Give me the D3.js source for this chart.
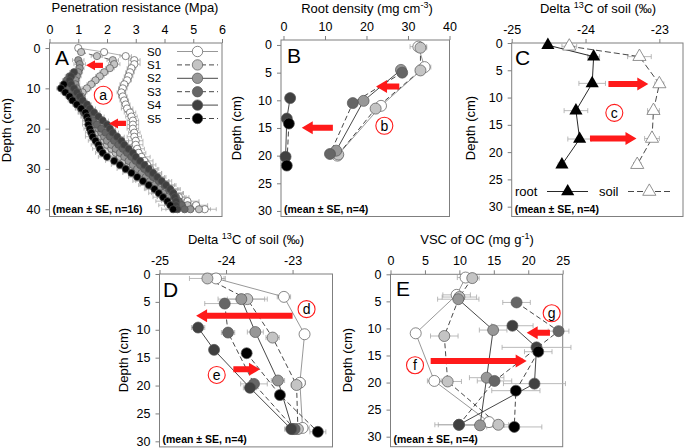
<!DOCTYPE html>
<html><head><meta charset="utf-8">
<script src="https://cdn.jsdelivr.net/npm/d3@7"></script>
<style>body{margin:0;background:#fff} text{font-family:Arial,"Liberation Sans",sans-serif}</style>
</head><body><svg id="c" width="685" height="448"></svg>
<script>
// ---------------- DATA ----------------
const seriesNames = ["S0","S1","S2","S3","S4","S5"];
// Panel A: penetration resistance (MPa) by depth (cm), index = depth
const depthA = [0,1,2,3,4,5,6,7,8,9,10,11,12,13,14,15,16,17,18,19,20,21,22,23,24,25,26,27,28,29,30,31,32,33,34,35,36,37,38,39,40];
const penS0 = [1.0,1.9,2.65,2.95,2.95,2.85,2.8,2.75,2.7,2.6,2.55,2.5,2.55,2.6,2.65,2.7,2.8,2.85,2.9,2.9,2.9,2.95,2.95,3.0,3.0,3.05,3.1,3.2,3.3,3.4,3.5,3.6,3.7,3.8,3.9,4.1,4.3,4.5,4.8,5.1,5.4];
const penS1 = [null,1.1,1.65,2.2,2.25,2.1,1.9,1.75,1.6,1.45,1.3,1.15,1.1,1.05,1.1,1.15,1.2,1.3,1.4,1.5,1.6,1.7,1.8,1.9,2.0,2.15,2.3,2.45,2.6,2.75,2.9,3.05,3.2,3.35,3.5,3.7,3.9,4.1,4.4,4.8,5.2];
const penS2 = [null,null,null,1.0,1.05,1.05,1.0,0.95,0.9,0.9,0.95,1.0,1.05,1.1,1.15,1.2,1.3,1.4,1.5,1.6,1.7,1.8,1.9,2.0,2.15,2.3,2.45,2.6,2.75,2.9,3.05,3.2,3.35,3.5,3.65,3.8,3.95,4.1,4.3,4.6,4.9];
const penS3 = [null,null,null,null,null,null,null,0.7,0.6,0.55,0.6,0.7,0.8,0.9,1.0,1.1,1.2,1.35,1.5,1.65,1.8,1.95,2.1,2.25,2.4,2.55,2.7,2.85,3.0,3.15,3.3,3.45,3.6,3.8,4.0,4.15,4.3,4.4,4.5,4.6,4.7];
const penS4 = [null,null,null,null,null,null,0.85,0.75,0.7,0.75,0.85,0.95,1.05,1.15,1.3,1.4,1.55,1.7,1.85,2.0,2.1,2.2,2.35,2.5,2.6,2.75,2.9,3.0,3.15,3.3,3.45,3.6,3.75,3.9,4.05,4.2,4.3,4.35,4.4,4.4,4.45];
const penS5 = [null,null,null,null,null,null,null,null,null,0.5,0.4,0.55,0.7,0.8,0.95,1.1,1.25,1.3,1.35,1.35,1.4,1.45,1.5,1.6,1.7,1.75,1.85,2.0,2.25,2.45,2.65,2.85,3.05,3.25,3.45,3.65,3.8,3.95,4.1,4.2,4.3];
const penSE = [0.05,0.1,0.2,0.2,0.2,0.15,0.15,0.15,0.15,0.15,0.15,0.15,0.15,0.15,0.15,0.2,0.2,0.2,0.2,0.2,0.2,0.2,0.25,0.25,0.25,0.25,0.25,0.3,0.3,0.3,0.3,0.3,0.3,0.35,0.35,0.35,0.35,0.35,0.4,0.4,0.4];

// Panel B: root density (mg cm-3): [depth, value, SE]
const rootS0 = [[0.3,32.5,2.0],[4.0,34.0,1.5],[11.0,23.5,1.0],[20.0,13.0,0.8]];
const rootS1 = [[0.5,33.0,1.5],[4.6,33.0,1.2],[11.5,22.2,1.0],[19.8,13.2,0.8]];
const rootS2 = [[4.5,28.3,1.0],[10.1,19.3,1.0],[19.1,12.7,0.8]];
const rootS3 = [[5.0,28.6,0.8],[10.5,16.7,0.8],[19.7,11.2,0.6]];
const rootS4 = [[9.6,1.6,0.3],[13.3,0.8,0.3],[20.2,0.5,0.2]];
const rootS5 = [[14.2,1.3,0.3],[21.8,0.8,0.2]];

// Panel C: delta 13C of root and soil: [depth, value, SE]
const d13Root = [[0.4,-24.51,0.05],[2.5,-23.89,0.08],[7.4,-23.91,0.18],[12.4,-24.13,0.16],[17.6,-24.08,0.16],[22.3,-24.32,0.05]];
const d13Soil = [[0.6,-24.22,0.1],[2.5,-23.27,0.16],[7.5,-23.0,0.06],[12.4,-23.08,0.08],[17.5,-23.1,0.1],[22.3,-23.3,0.05]];

// Panel D: delta 13C of soil per treatment: [depth, value, SE]
const dS0 = [[0.8,-24.15,0.12],[4.1,-23.13,0.1],[10.8,-22.82,0.05],[19.5,-22.89,0.08],[27.6,-22.85,0.1]];
const dS1 = [[0.8,-24.28,0.27],[4.5,-23.68,0.3],[11.4,-23.3,0.1],[19.9,-22.94,0.08],[27.8,-22.92,0.1]];
const dS2 = [[4.5,-23.77,0.35],[10.4,-23.56,0.12],[19.1,-23.22,0.1],[27.8,-23.0,0.1]];
const dS3 = [[5.3,-24.02,0.3],[10.5,-23.97,0.1],[19.7,-23.58,0.2],[27.8,-22.97,0.1]];
const dS4 = [[9.6,-24.42,0.1],[13.6,-24.18,0.05],[20.4,-23.64,0.1],[27.8,-23.02,0.1]];
const dS5 = [[14.2,-23.69,0.05],[21.7,-23.19,0.05],[28.3,-22.62,0.12]];

// Panel E: VSC of OC (mg g-1): [depth, value, SE]
const eS0 = [[0.6,10.9,1.2],[3.8,9.6,2.0],[10.9,3.66,0.5],[19.7,6.36,1.0],[27.3,14.3,1.5]];
const eS1 = [[0.7,11.87,1.0],[4.2,10.0,2.5],[11.4,7.81,2.0],[19.8,8.3,2.0],[27.8,15.65,1.5]];
const eS2 = [[4.6,9.84,3.0],[10.3,14.9,2.0],[19.1,13.96,2.5],[27.9,13.0,3.5]];
const eS3 = [[5.2,18.3,2.0],[10.5,24.4,1.5],[19.7,15.1,2.5],[27.8,9.94,3.5]];
const eS4 = [[9.5,17.7,3.0],[13.5,21.2,5.0],[20.2,20.9,4.5],[27.8,9.94,3.0]];
const eS5 = [[14.3,21.45,2.0],[21.5,18.2,3.5],[28.2,17.97,4.0]];

// Annotations (data coords): [depth, fromValue, toValue]
const arrowsA = [[4.3,1.86,1.27],[18.7,2.66,2.07]];
const arrowsB = [[7.5,27.9,22.3],[14.95,11.9,4.4]];
const arrowsC = [[7.5,-23.69,-23.15],[17.5,-23.94,-23.31]];
const arrowsD = [[7.5,-23.0,-24.45],[17.1,-23.89,-23.49]];
const arrowsE = [[10.8,23.15,19.77],[16.0,5.83,19.77]];
// circle labels: [label, value, depth]
const labelsA = [["a",1.87,11.7]];
const labelsB = [["b",24.3,14.6]];
const labelsC = [["c",-23.61,12.8]];
const labelsD = [["d",-22.79,6.3],["e",-24.14,18.1]];
const labelsE = [["g",23.4,7.2],["f",3.56,16.8]];

// ---------------- STYLE ----------------
const fills = ["#ffffff","#c4c4c4","#979797","#666666","#404040","#000000"];
const dashes = [null,"5,3",null,"5,3",null,"5,3"];
const lineCols = ["#8c8c8c","#333","#333","#333","#333","#333"];
const axisCol = "#7f7f7f", errCol = "#a8a8a8", red = "#ff1a1a";

const svg = d3.select("#c");

function makePanel(p){
  const g = svg.append("g");
  const x = d3.scaleLinear().domain(p.xd).range(p.xr);
  const y = d3.scaleLinear().domain(p.yd).range(p.yr);
  g.append("rect").attr("x",p.xr[0]).attr("y",p.yr[0])
    .attr("width",p.xr[1]-p.xr[0]).attr("height",p.yr[1]-p.yr[0])
    .attr("fill","none").attr("stroke",axisCol).attr("stroke-width",1);
  const xa = g.append("g").attr("transform",`translate(0,${p.yr[0]})`)
    .call(d3.axisTop(x).tickValues(p.xt).tickSize(4).tickPadding(5).tickFormat(d=>String(d)));
  const ya = g.append("g").attr("transform",`translate(${p.xr[0]},0)`)
    .call(d3.axisLeft(y).tickValues(p.yt).tickSize(4).tickPadding(5).tickFormat(d=>String(d)));
  [xa,ya].forEach(a=>{
    a.select(".domain").remove();
    a.selectAll("line").attr("stroke",axisCol);
    a.selectAll("text").attr("font-size","12.5px").attr("fill","#000").attr("font-family","Arial, 'Liberation Sans', sans-serif");
  });
  const t = g.append("text").attr("x",p.tx).attr("y",p.ty).attr("text-anchor","middle").attr("font-size","13px");
  p.title.forEach(s=>{
    if (s.sup) t.append("tspan").attr("dy",-5).attr("font-size","9px").text(s.sup);
    else t.append("tspan").attr("dy", s.after ? 5 : 0).text(s.t);
  });
  g.append("text").attr("transform",`translate(${p.lx},${p.ly}) rotate(-90)`)
    .attr("text-anchor","middle").attr("font-size","13px").text("Depth (cm)");
  g.append("text").attr("x",p.letter[1]).attr("y",p.letter[2]).attr("font-size","21px").text(p.letter[0]);
  g.append("text").attr("x",p.xr[0]+3).attr("y",p.yr[1]-3.5).attr("font-size","10.5px").attr("font-weight","bold").text(p.note);
  return {g,x,y};
}

function errBars(g,x,y,pts,cap){
  pts.forEach(([d,v,se])=>{
    if (v==null || !se) return;
    const yy=y(d), x1=x(v-se), x2=x(v+se);
    g.append("line").attr("x1",x1).attr("x2",x2).attr("y1",yy).attr("y2",yy).attr("stroke",errCol).attr("stroke-width",0.8);
    [x1,x2].forEach(xx=>g.append("line").attr("x1",xx).attr("x2",xx).attr("y1",yy-cap).attr("y2",yy+cap).attr("stroke",errCol).attr("stroke-width",0.8));
  });
}
function seriesLine(g,x,y,pts,i,w){
  const ln = d3.line().defined(p=>p[1]!=null).x(p=>x(p[1])).y(p=>y(p[0]));
  g.append("path").attr("d",ln(pts)).attr("fill","none").attr("stroke",lineCols[i])
    .attr("stroke-width",w).attr("stroke-dasharray",dashes[i]);
}
function dots(g,x,y,pts,i,r){
  g.selectAll(null).data(pts.filter(p=>p[1]!=null)).enter().append("circle")
    .attr("cx",p=>x(p[1])).attr("cy",p=>y(p[0])).attr("r",r)
    .attr("fill",fills[i]).attr("stroke","#555").attr("stroke-width",0.7);
}
function arrows(g,x,y,list,t,hl,hh){
  list.forEach(([d,v1,v2])=>{
    const x1=x(v1), x2=x(v2), yy=y(d), dir=Math.sign(x2-x1), xb=x2-dir*hl;
    const pts=[[x1,yy-t],[xb,yy-t],[xb,yy-hh],[x2,yy],[xb,yy+hh],[xb,yy+t],[x1,yy+t]];
    g.append("polygon").attr("points",pts.map(p=>p.join(",")).join(" ")).attr("fill",red);
  });
}
function circLabels(g,x,y,list,r){
  list.forEach(([s,v,d])=>{
    g.append("circle").attr("cx",x(v)).attr("cy",y(d)).attr("r",r).attr("fill","#fff").attr("stroke",red).attr("stroke-width",1.1);
    g.append("text").attr("x",x(v)).attr("y",y(d)).attr("dy","0.36em").attr("text-anchor","middle").attr("font-size","14px").text(s);
  });
}
function multiPanel(P,data,r){
  data.forEach(s=>errBars(P.g,P.x,P.y,s,2.5));
  data.forEach((s,i)=>seriesLine(P.g,P.x,P.y,s,i,0.9));
  data.forEach((s,i)=>dots(P.g,P.x,P.y,s,i,r));
}

const dep5 = [0,5,10,15,20,25,30];

// ---------- Panel A ----------
const A = makePanel({xd:[0,6],xr:[49.5,222],yd:[-1.25,41.8],yr:[43,216.5],xt:[0,1,2,3,4,5,6],yt:[0,10,20,30,40],
  title:[{t:"Penetration resistance (Mpa)"}],tx:135,ty:12,lx:11,ly:130,letter:["A",55,65],note:"(mean ± SE, n=16)"});
const penAll = [penS0,penS1,penS2,penS3,penS4,penS5].map(arr=>depthA.map((d,k)=>[d,arr[k],penSE[k]]));
penAll.forEach(s=>errBars(A.g,A.x,A.y,s,2));
penAll.forEach((s,i)=>seriesLine(A.g,A.x,A.y,s,i,0.7));
penAll.forEach((s,i)=>dots(A.g,A.x,A.y,s,i,3.6));
arrows(A.g,A.x,A.y,arrowsA,2.6,9,5);
circLabels(A.g,A.x,A.y,labelsA,9);
// legend A
seriesNames.forEach((n,i)=>{
  const yy = 51.5 + i*13.4;
  A.g.append("text").attr("x",147).attr("y",yy).attr("dy","0.35em").attr("font-size","11.5px").text(n);
  A.g.append("line").attr("x1",177).attr("x2",218).attr("y1",yy).attr("y2",yy).attr("stroke",i===0?"#8c8c8c":"#333").attr("stroke-width",0.9).attr("stroke-dasharray",dashes[i]);
  A.g.append("circle").attr("cx",197.5).attr("cy",yy).attr("r",5.2).attr("fill",fills[i]).attr("stroke","#555").attr("stroke-width",0.7);
});

// ---------- Panel B ----------
const B = makePanel({xd:[-0.6,40],xr:[281,449.5],yd:[-0.9,31],yr:[40,216.5],xt:[0,10,20,30,40],yt:dep5,
  title:[{t:"Root density (mg cm"},{sup:"-3"},{t:")",after:true}],tx:367,ty:12.5,lx:241,ly:128,letter:["B",287,63],note:"(mean ± SE, n=4)"});
multiPanel(B,[rootS0,rootS1,rootS2,rootS3,rootS4,rootS5],5.5);
arrows(B.g,B.x,B.y,arrowsB,3,11,6.5);
circLabels(B.g,B.x,B.y,labelsB,8.5);

// ---------- Panel C ----------
const C = makePanel({xd:[-25,-22.68],xr:[511.7,683],yd:[0,31.8],yr:[43,216.5],xt:[-25,-24,-23],yt:dep5,
  title:[{t:"Delta "},{sup:"13"},{t:"C of soil (‰)",after:true}],tx:598,ty:12.5,lx:475,ly:128,letter:["C",515,65],note:"(mean ± SE, n=4)"});
errBars(C.g,C.x,C.y,d13Root,2.5); errBars(C.g,C.x,C.y,d13Soil,2.5);
const lnC = d3.line().x(p=>C.x(p[1])).y(p=>C.y(p[0]));
C.g.append("path").attr("d",lnC(d13Root)).attr("fill","none").attr("stroke","#111").attr("stroke-width",0.9);
C.g.append("path").attr("d",lnC(d13Soil)).attr("fill","none").attr("stroke","#333").attr("stroke-width",0.9).attr("stroke-dasharray","6,3");
const tri = d3.symbol(d3.symbolTriangle).size(75);
C.g.selectAll(null).data(d13Root).enter().append("path").attr("d",tri)
  .attr("transform",p=>`translate(${C.x(p[1])},${C.y(p[0])})`).attr("fill","#000");
C.g.selectAll(null).data(d13Soil).enter().append("path").attr("d",tri)
  .attr("transform",p=>`translate(${C.x(p[1])},${C.y(p[0])})`).attr("fill","#fff").attr("stroke","#777").attr("stroke-width",0.8);
arrows(C.g,C.x,C.y,arrowsC,3,11,6.5);
circLabels(C.g,C.x,C.y,labelsC,8.5);
// legend C
C.g.append("text").attr("x",515).attr("y",191.5).attr("dy","0.35em").attr("font-size","13px").text("root");
C.g.append("line").attr("x1",547).attr("x2",588).attr("y1",191.5).attr("y2",191.5).attr("stroke","#111").attr("stroke-width",0.9);
C.g.append("path").attr("d",tri).attr("transform","translate(567.7,191.5)").attr("fill","#000");
C.g.append("text").attr("x",599).attr("y",191.5).attr("dy","0.35em").attr("font-size","13px").text("soil");
C.g.append("line").attr("x1",628).attr("x2",670).attr("y1",191.5).attr("y2",191.5).attr("stroke","#333").attr("stroke-width",0.9).attr("stroke-dasharray","6,3");
C.g.append("path").attr("d",tri).attr("transform","translate(649.3,191.5)").attr("fill","#fff").attr("stroke","#777").attr("stroke-width",0.8);

// ---------- Panel D ----------
const D = makePanel({xd:[-25,-22.4],xr:[159.5,332.5],yd:[0,31],yr:[274,446.9],xt:[-25,-24,-23],yt:dep5,
  title:[{t:"Delta "},{sup:"13"},{t:"C of soil (‰)",after:true}],tx:246,ty:243.5,lx:128,ly:360,letter:["D",163,297],note:"(mean ± SE, n=4)"});
multiPanel(D,[dS0,dS1,dS2,dS3,dS4,dS5],5.5);
arrows(D.g,D.x,D.y,arrowsD,3,11,6.5);
circLabels(D.g,D.x,D.y,labelsD,8.5);

// ---------- Panel E ----------
const E = makePanel({xd:[0,25],xr:[390.5,562.7],yd:[0,31.85],yr:[274.3,446.7],xt:[0,5,10,15,20,25],yt:dep5,
  title:[{t:"VSC of OC (mg g"},{sup:"-1"},{t:")",after:true}],tx:477,ty:243.5,lx:352,ly:360,letter:["E",396,296],note:"(mean ± SE, n=4)"});
multiPanel(E,[eS0,eS1,eS2,eS3,eS4,eS5],5.5);
arrows(E.g,E.x,E.y,arrowsE,3,11,6.5);
circLabels(E.g,E.x,E.y,labelsE,8.5);
</script></body></html>
